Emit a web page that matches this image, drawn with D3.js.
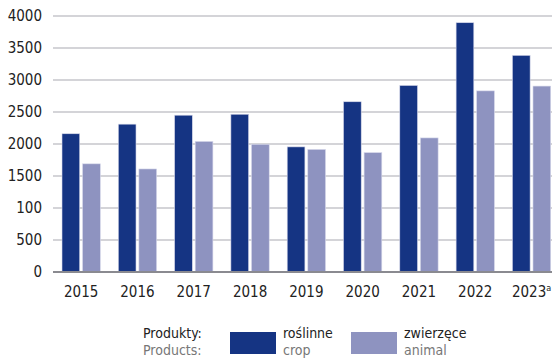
<!DOCTYPE html>
<html>
<head>
<meta charset="utf-8">
<script src="https://cdn.jsdelivr.net/npm/d3@7/dist/d3.min.js"></script>
<style>
  html, body { margin: 0; padding: 0; background: #fff; }
  svg { display: block; }
  text { font-family: "Liberation Sans Narrow", "DejaVu Sans Condensed", "Roboto", sans-serif; }
</style>
</head>
<body>
<svg id="chart" width="552" height="360"></svg>
<script>
const categories = ["2015", "2016", "2017", "2018", "2019", "2020", "2021", "2022", "2023"];
const cropValues = [2160, 2310, 2450, 2465, 1955, 2660, 2915, 3895, 3385];
const animalValues = [1690, 1610, 2040, 1995, 1915, 1865, 2095, 2830, 2905];
const yTickValues = [0, 500, 1000, 1500, 2000, 2500, 3000, 3500, 4000];
const yTickLabels = ["0", "500", "100", "1500", "2000", "2500", "3000", "3500", "4000"];
const seriesNames = ["crop", "animal"];
const legendPl = ["roślinne", "zwierzęce"];
const legendEn = ["crop", "animal"];
const colors = {crop: "#153483", animal: "#8e93c0"};

const svg = d3.select("#chart");
const mLeft = 53, mRight = 559.7, mTop = 16, mBottom = 272;

const x = d3.scaleBand().domain(categories).range([mLeft, mRight]).paddingInner(0).paddingOuter(0);
const xSub = d3.scaleBand().domain(seriesNames).range([9, x.bandwidth() - 9]).paddingInner(0.14);
const y = d3.scaleLinear().domain([0, 4000]).range([mBottom, mTop]);

// gridlines
svg.append("g")
  .selectAll("line")
  .data(yTickValues.filter(d => d > 0))
  .join("line")
  .attr("x1", mLeft).attr("x2", 552)
  .attr("y1", d => y(d)).attr("y2", d => y(d))
  .attr("stroke", "#a9a9b1").attr("stroke-width", 1);

// y axis labels
const yAxis = d3.axisLeft(y).tickValues(yTickValues)
  .tickFormat((d, i) => yTickLabels[i]).tickSize(0).tickPadding(0);
const gy = svg.append("g").attr("transform", `translate(42,0)`).call(yAxis);
gy.select(".domain").remove();
gy.selectAll("text").attr("font-size", 15).attr("fill", "#222")
  .attr("font-family", "'Liberation Sans Narrow', 'DejaVu Sans Condensed', sans-serif");

// bars
const data = categories.map((c, i) => ({cat: c, crop: cropValues[i], animal: animalValues[i]}));
const groups = svg.append("g").selectAll("g").data(data).join("g")
  .attr("transform", d => `translate(${x(d.cat)},0)`);
groups.selectAll("rect")
  .data(d => seriesNames.map(k => ({key: k, value: d[k]})))
  .join("rect")
  .attr("x", d => xSub(d.key))
  .attr("width", xSub.bandwidth())
  .attr("y", d => y(d.value))
  .attr("height", d => y(0) - y(d.value))
  .attr("fill", d => colors[d.key])
  .attr("stroke", "#d6d8ea").attr("stroke-width", 0.6);

// x axis
const xAxis = d3.axisBottom(x).tickSize(0).tickPadding(0);
const gx = svg.append("g").attr("transform", `translate(0,${mBottom})`).call(xAxis);
gx.select(".domain").remove();
gx.selectAll(".tick text").attr("dy", 0).attr("y", 25).attr("font-size", 15).attr("fill", "#222")
  .attr("font-family", "'Liberation Sans Narrow', 'DejaVu Sans Condensed', sans-serif");
gx.selectAll(".tick").filter(d => d === "2023").select("text")
  .text("2023").append("tspan").attr("font-size", 9).attr("dy", -6).text("a");
svg.append("line").attr("x1", mLeft).attr("x2", 552).attr("y1", mBottom).attr("y2", mBottom)
  .attr("stroke", "#8a8a90").attr("stroke-width", 2);

// legend
const lg = svg.append("g");
lg.append("text").attr("x", 143).attr("y", 338).attr("font-size", 14).attr("fill", "#222").text("Produkty:");
lg.append("text").attr("x", 143).attr("y", 355).attr("font-size", 14).attr("fill", "#777").text("Products:");
const swX = [230, 351];
seriesNames.forEach((k, i) => {
  lg.append("rect").attr("x", swX[i]).attr("y", 332).attr("width", 46).attr("height", 22).attr("fill", colors[k]);
  lg.append("text").attr("x", swX[i] + 53).attr("y", 338).attr("font-size", 14).attr("fill", "#222").text(legendPl[i]);
  lg.append("text").attr("x", swX[i] + 53).attr("y", 355).attr("font-size", 14).attr("fill", "#777").text(legendEn[i]);
});
</script>
</body>
</html>
